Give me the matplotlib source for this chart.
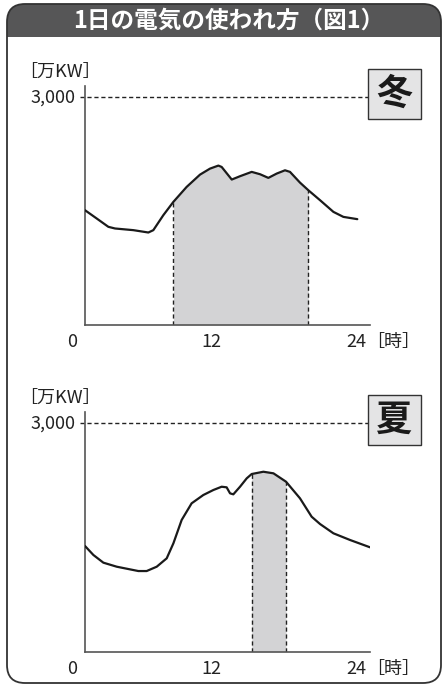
#!/usr/bin/env python3
"""
1日の電気の使われ方（図1）
"""
import numpy as np
import matplotlib
matplotlib.use('Agg')
import matplotlib.pyplot as plt
from matplotlib.patches import FancyBboxPatch, Rectangle
from matplotlib.transforms import IdentityTransform

plt.rcParams['font.family'] = ['Noto Sans CJK JP', 'DejaVu Sans']

# 冬のデータ（時, 万KW）
winter_hours = [0, 1.03, 2.06, 2.65, 4.27, 5.59, 6.03, 6.91, 7.8, 8.97, 10.15, 11.03,
                11.77, 12.06, 12.95, 13.68, 14.71, 15.45, 16.18, 16.92, 17.65, 18.09,
                18.97, 19.71, 20.74, 21.92, 22.8, 24.03]
winter_load = [1513, 1404, 1294, 1272, 1250, 1219, 1250, 1447, 1623, 1820, 1982, 2061,
               2101, 2083, 1917, 1961, 2018, 1987, 1939, 1996, 2039, 2018,
               1877, 1776, 1645, 1491, 1425, 1395]
winter_peak = (7.8, 19.71)

# 夏のデータ（時, 万KW）
summer_hours = [0, 0.74, 1.62, 2.8, 4.71, 5.44, 6.33, 7.21, 7.8, 8.53, 9.41, 10.44,
                11.33, 12.06, 12.5, 12.8, 13.09, 13.68, 14.27, 14.71, 15.74, 16.63,
                17.74, 18.97, 20.0, 20.74, 21.92, 23.39, 25.15]
summer_load = [1389, 1271, 1170, 1117, 1060, 1060, 1117, 1227, 1424, 1731, 1950, 2059,
               2125, 2168, 2160, 2081, 2068, 2168, 2278, 2335, 2365, 2344,
               2234, 2016, 1774, 1678, 1556, 1468, 1372]
summer_peak = (14.71, 17.74)

x_ticks = [0, 12, 24]
x_tick_labels = ['0', '12', '24']
ref_level = 3000

W, H = 443, 686
fig = plt.figure(figsize=(W / 100, H / 100), dpi=100)
fig.patch.set_facecolor('white')

ident = IdentityTransform()

def py(y):
    """画像のy座標(上から) -> 表示座標(下から)"""
    return H - y

# 枠と見出し
r = 18
frame_x0, frame_x1, frame_y0, frame_y1 = 7, 441, 4, 683
head_bottom = 37
fig.patches.append(FancyBboxPatch((frame_x0, py(frame_y1)), frame_x1 - frame_x0, frame_y1 - frame_y0,
                                  boxstyle=f'round,pad=0,rounding_size={r}', transform=ident,
                                  facecolor='white', edgecolor='none', zorder=-3))
fig.patches.append(FancyBboxPatch((frame_x0, py(head_bottom + 40)), frame_x1 - frame_x0, head_bottom + 40 - frame_y0,
                                  boxstyle=f'round,pad=0,rounding_size={r}', transform=ident,
                                  facecolor='#565657', edgecolor='none', zorder=-2))
fig.patches.append(Rectangle((frame_x0, py(head_bottom + 41)), frame_x1 - frame_x0, 41,
                             transform=ident, facecolor='white', edgecolor='none', zorder=-1))
fig.patches.append(FancyBboxPatch((frame_x0, py(frame_y1)), frame_x1 - frame_x0, frame_y1 - frame_y0,
                                  boxstyle=f'round,pad=0,rounding_size={r}', transform=ident,
                                  facecolor='none', edgecolor='#333333', linewidth=1.3, zorder=3))
fig.text(229 / W, 1 - 21 / H, '1日の電気の使われ方（図1）', color='white', fontsize=17,
         fontweight='bold', ha='center', va='center')


def draw_panel(top, bottom, hours, load, peak, season):
    ax = fig.add_axes([85 / W, (H - bottom) / H, 285 / W, (bottom - top) / H])
    ax.set_zorder(1)
    ax.set_xlim(0, 25.15)
    ax.set_ylim(0, 3150)
    ax.patch.set_alpha(0)
    for s in ['top', 'right']:
        ax.spines[s].set_visible(False)
    for s in ['left', 'bottom']:
        ax.spines[s].set_color('#555555')
        ax.spines[s].set_linewidth(1.2)
    ax.set_xticks([])
    ax.set_yticks([])

    h = np.array(hours)
    v = np.array(load)
    mask = (h >= peak[0]) & (h <= peak[1])
    ax.fill_between(h[mask], 0, v[mask], color='#d3d3d5', linewidth=0, zorder=1)
    for p in peak:
        ax.vlines(p, 0, np.interp(p, h, v), colors='#222222', linestyles=(0, (3, 2)),
                  linewidth=1.0, zorder=2)
    ax.plot(h, v, color='#1a1a1a', linewidth=1.6, zorder=3, solid_capstyle='round')

    # 3,000の基準線
    ax.plot([-0.4, 25.15], [ref_level, ref_level], color='#222222', linestyle=(0, (3, 2)),
            linewidth=1.0, clip_on=False, zorder=2)

    # 目盛ラベル
    label_y = -(342 - 325) / 76.0 * 1000
    offsets = {0: -1.15, 12: -0.85, 24: -0.05}
    for t, lab in zip(x_ticks, x_tick_labels):
        ax.text(t + offsets[t], label_y, lab, fontsize=13, ha='center', va='center',
                color='#222222', clip_on=False)
    ax.text(24.85, label_y, '［時］', fontsize=13, ha='left', va='center', color='#222222',
            clip_on=False)
    ax.text(-0.8, ref_level, '3,000', fontsize=13, ha='right', va='center', color='#222222',
            clip_on=False)
    ax.text(-5.8, ref_level + 340, '［万KW］', fontsize=13, ha='left', va='center',
            color='#222222', clip_on=False)

    # 季節の箱
    box_top = top - 17
    fig.patches.append(Rectangle((368, py(box_top + 50)), 53, 50, transform=ident,
                                 facecolor='#e4e4e5', edgecolor='#333333', linewidth=1.0, zorder=5))
    fig.text(394.5 / W, 1 - (box_top + 25) / H, season, fontsize=26, fontweight='bold',
             ha='center', va='center', color='#1a1a1a', zorder=6)
    return ax


draw_panel(86, 325, winter_hours, winter_load, winter_peak, '冬')
draw_panel(412, 651.7, summer_hours, summer_load, summer_peak, '夏')

plt.savefig('out.png', dpi=100)
